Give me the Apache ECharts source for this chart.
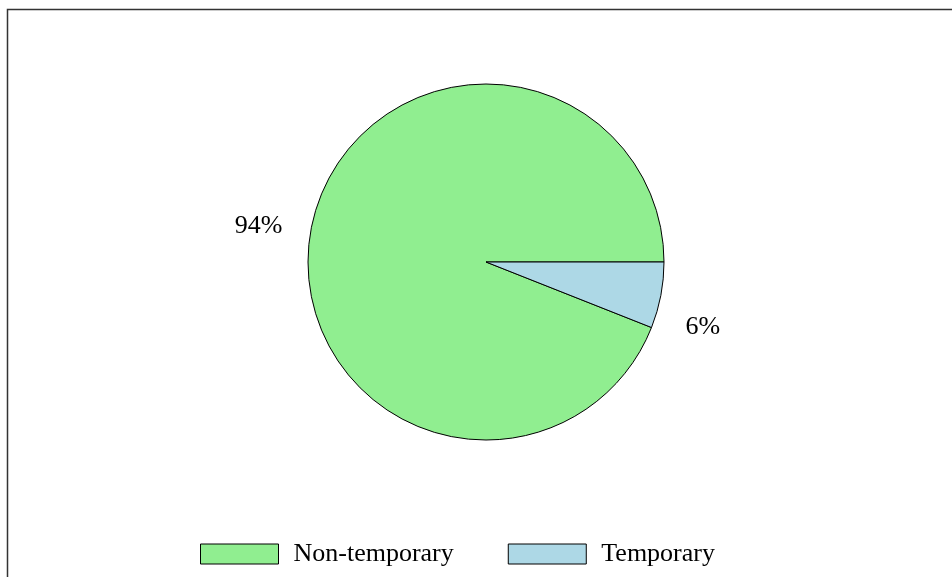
<!DOCTYPE html>
<html><head><meta charset="utf-8">
<script src="https://cdn.jsdelivr.net/npm/echarts@6/dist/echarts.min.js"></script>
<style>html,body{margin:0;padding:0;background:#fff}#c{width:952px;height:577px}</style>
</head><body><div id="c"></div>
<script>
const categories = ['Non-temporary', 'Temporary'];
const values = [94, 6];
const colors = ['#90EE90', '#ADD8E6'];

const chart = echarts.init(document.getElementById('c'), null, {renderer: 'canvas'});
const font = 'Liberation Serif, Times New Roman, serif';
chart.setOption({
  animation: false,
  backgroundColor: '#fff',
  graphic: [{
    type: 'polyline',
    shape: {points: [[7.5, 577], [7.5, 9.5], [952, 9.5]]},
    style: {stroke: '#333', lineWidth: 1.5, fill: null}
  }],
  legend: {
    top: 536, left: 195,
    itemWidth: 78, itemHeight: 20, itemGap: 54,
    icon: 'rect',
    itemStyle: {borderColor: '#000', borderWidth: 1},
    textStyle: {fontFamily: font, fontSize: 26, color: '#000', padding: [0, 0, 0, 10]},
    data: categories
  },
  series: [{
    type: 'pie',
    center: [486, 262],
    radius: 178,
    startAngle: 0,
    clockwise: false,
    itemStyle: {borderColor: '#000', borderWidth: 1},
    label: {
      show: true, position: 'outside',
      formatter: p => Math.round(p.percent) + '%',
      fontFamily: font, fontSize: 26, color: '#000'
    },
    labelLine: {show: false, length: 14, length2: 10},
    labelLayout: p => p.dataIndex === 1 ? {dx: -4, dy: 29} : {},
    emphasis: {disabled: true},
    data: categories.map((c, i) => ({name: c, value: values[i], itemStyle: {color: colors[i]}}))
  }]
});
</script></body></html>
